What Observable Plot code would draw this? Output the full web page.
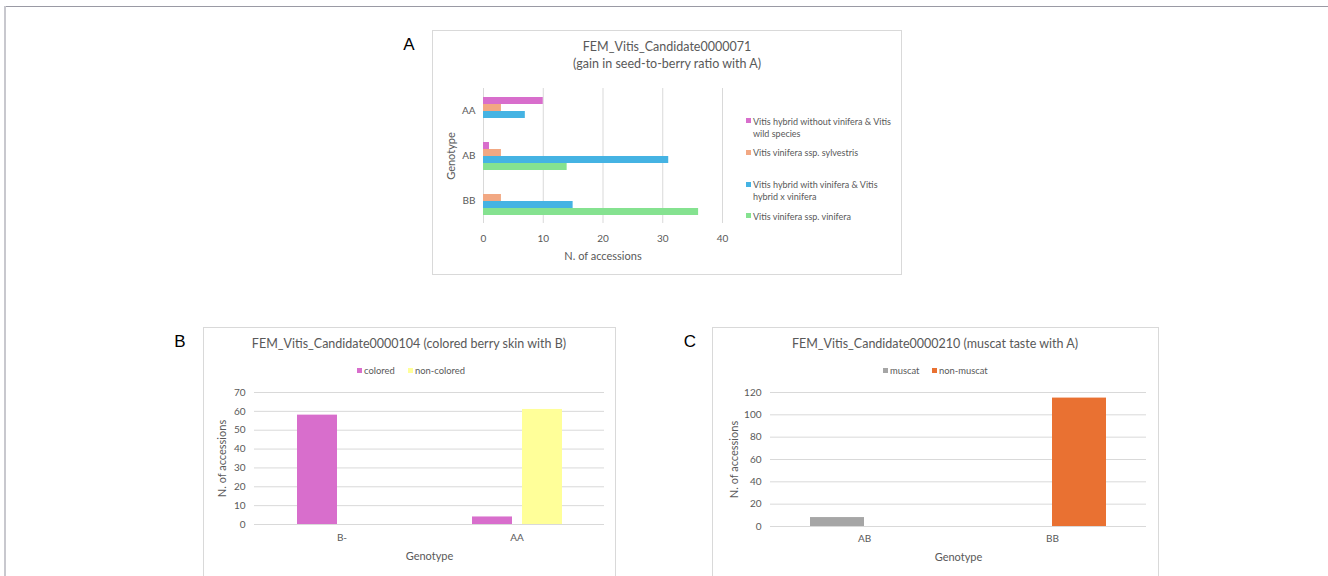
<!DOCTYPE html>
<html>
<head>
<meta charset="utf-8">
<script src="https://cdn.jsdelivr.net/npm/d3@7"></script>
<script src="https://cdn.jsdelivr.net/npm/@observablehq/plot@0.6"></script>
<style>
  body { margin: 0; background: #fff; font-family: Lato, "Noto Sans", sans-serif; color: #595959; }
  #page { position: relative; width: 1328px; height: 576px; overflow: hidden; background: #fff; }
  .box { position: absolute; border: 1px solid #d9d9d9; background: #fff; box-sizing: border-box; }
  .abs { position: absolute; }
  .ct { position: absolute; white-space: nowrap; transform: translate(-50%, -50%); }
  .lt { position: absolute; white-space: nowrap; transform: translateY(-50%); }
  .panel { position: absolute; font-family: "Liberation Sans", Arial, sans-serif; font-size: 17px; color: #000; transform: translate(-50%, -50%); }
  .sw { position: absolute; width: 5px; height: 5px; }
</style>
</head>
<body>
<div id="page"></div>
<script>
// ---------- Panel A data ----------
const genotypesA = ["AA", "AB", "BB"];
const seriesA = [
  "Vitis hybrid without vinifera & Vitis wild species",
  "Vitis vinifera ssp. sylvestris",
  "Vitis hybrid with vinifera & Vitis hybrid x vinifera",
  "Vitis vinifera ssp. vinifera"
];
const legendLinesA = [
  ["Vitis hybrid without vinifera & Vitis", "wild species"],
  ["Vitis vinifera ssp. sylvestris"],
  ["Vitis hybrid with vinifera & Vitis", "hybrid x vinifera"],
  ["Vitis vinifera ssp. vinifera"]
];
const hybridWithoutA = [10, 1, 0];
const sylvestrisA = [3, 3, 3];
const hybridWithA = [7, 31, 15];
const viniferaA = [0, 14, 36];
const colorsA = ["#d86ecc", "#f2a883", "#45b3e3", "#85e290"];
const ticksA = [0, 10, 20, 30, 40];

// ---------- Panel B data ----------
const genotypesB = ["B-", "AA"];
const seriesB = ["colored", "non-colored"];
const coloredB = [58, 4];
const nonColoredB = [0, 61];
const colorsB = ["#d86ecc", "#ffff99"];
const ticksB = [0, 10, 20, 30, 40, 50, 60, 70];

// ---------- Panel C data ----------
const genotypesC = ["AB", "BB"];
const seriesC = ["muscat", "non-muscat"];
const muscatC = [8, 0];
const nonMuscatC = [0, 115];
const colorsC = ["#a6a6a6", "#e97132"];
const ticksC = [0, 20, 40, 60, 80, 100, 120];

const page = document.getElementById("page");
const FONT = 'Lato, "Noto Sans", sans-serif';
const TXT = "#595959";
const TICKFS = 10;
const LABELFS = 11;

function el(tag, cls, style, text) {
  const e = document.createElement(tag);
  if (cls) e.className = cls;
  Object.assign(e.style, style || {});
  if (text != null) e.textContent = text;
  page.appendChild(e);
  return e;
}

// outer frame lines
el("div", "abs", {left: "4px", top: "6px", width: "1324px", height: "1px", background: "#9a9aa4"});
el("div", "abs", {left: "4px", top: "6px", width: "2px", height: "570px", background: "#c8c8ce"});

// ---------- Panel A ----------
el("div", "box", {left: "432px", top: "30px", width: "470px", height: "245px"});
el("div", "panel", {left: "409px", top: "45px"}, "A");
el("div", "ct", {left: "667px", top: "46px", fontSize: "12.5px", color: TXT}, "FEM_Vitis_Candidate0000071");
el("div", "ct", {left: "667px", top: "63px", fontSize: "12.5px", color: TXT}, "(gain in seed-to-berry ratio with A)");

const valuesA = [hybridWithoutA, sylvestrisA, hybridWithA, viniferaA];
const dataA = [];
genotypesA.forEach((g, i) => seriesA.forEach((s, j) => dataA.push({genotype: g, series: s, value: valuesA[j][i]})));

const plotA = Plot.plot({
  width: 470, height: 245,
  marginLeft: 51, marginRight: 180, marginTop: 57, marginBottom: 52,
  style: {fontFamily: FONT, fontSize: TICKFS + "px", color: TXT, background: "transparent"},
  x: {domain: [0, 40], axis: null},
  y: {domain: seriesA, paddingInner: 0, paddingOuter: 0.833, axis: null},
  fy: {domain: genotypesA, padding: 0},
  color: {domain: seriesA, range: colorsA},
  marks: [
    Plot.gridX(ticksA, {stroke: "#d9d9d9", strokeOpacity: 1, strokeWidth: 1}),
    Plot.barX(dataA, {x: "value", y: "series", fy: "genotype", fill: "series"}),
    Plot.axisX({ticks: ticksA, tickSize: 0, tickPadding: 11, label: null}),
    Plot.axisX({ticks: [], tickSize: 0, label: "N. of accessions", labelAnchor: "center", labelArrow: "none", labelOffset: 36, fontSize: LABELFS}),
    Plot.axisFy({anchor: "left", tickSize: 0, tickPadding: 8, label: null}),
    Plot.axisFy({anchor: "left", ticks: [], tickSize: 0, label: "Genotype", labelAnchor: "center", labelOffset: 36, fontSize: LABELFS})
  ]
});
const wA = el("div", "abs", {left: "432px", top: "30px"});
wA.appendChild(plotA);

// legend A
const legendYA = [120.5, 152, 184, 215.7];
legendLinesA.forEach((lines, i) => {
  el("div", "sw", {left: "745.5px", top: (legendYA[i] - 2.5) + "px", background: colorsA[i]});
  lines.forEach((ln, k) => {
    el("div", "lt", {left: "753px", top: (legendYA[i] + k * 12) + "px", fontSize: "9px", color: TXT}, ln);
  });
});

// ---------- Panel B ----------
el("div", "box", {left: "203px", top: "327px", width: "413px", height: "270px"});
el("div", "panel", {left: "180px", top: "342px"}, "B");
el("div", "ct", {left: "409px", top: "343px", fontSize: "12.5px", color: TXT}, "FEM_Vitis_Candidate0000104 (colored berry skin with B)");

const valuesB = [coloredB, nonColoredB];
const dataB = [];
genotypesB.forEach((g, i) => seriesB.forEach((s, j) => dataB.push({genotype: g, series: s, value: valuesB[j][i]})));

const plotB = Plot.plot({
  width: 413, height: 249,
  marginLeft: 51, marginRight: 12, marginTop: 65, marginBottom: 52,
  style: {fontFamily: FONT, fontSize: TICKFS + "px", color: TXT, background: "transparent"},
  y: {domain: [0, 70], axis: null},
  x: {domain: seriesB, paddingInner: 0.2, paddingOuter: 0.845, axis: null},
  fx: {domain: genotypesB, padding: 0},
  color: {domain: seriesB, range: colorsB},
  marks: [
    Plot.gridY(ticksB, {stroke: "#d9d9d9", strokeOpacity: 1, strokeWidth: 1}),
    Plot.barY(dataB, {x: "series", y: "value", fx: "genotype", fill: "series"}),
    Plot.axisY({ticks: ticksB, tickSize: 0, tickPadding: 9, label: null}),
    Plot.axisY({ticks: [], tickSize: 0, label: "N. of accessions", labelAnchor: "center", labelArrow: "none", labelOffset: 36, fontSize: LABELFS}),
    Plot.axisFx({anchor: "bottom", tickSize: 0, tickPadding: 9, label: null}),
    Plot.axisFx({anchor: "bottom", ticks: [], tickSize: 0, label: "Genotype", labelAnchor: "center", labelOffset: 35, fontSize: LABELFS})
  ]
});
const wB = el("div", "abs", {left: "203px", top: "327px"});
wB.appendChild(plotB);

// legend B
const legXB = [357, 408];
seriesB.forEach((s, i) => {
  el("div", "sw", {left: legXB[i] + "px", top: "367.5px", background: colorsB[i]});
  el("div", "lt", {left: (legXB[i] + 7) + "px", top: "370px", fontSize: "9.4px", color: TXT}, s);
});

// ---------- Panel C ----------
el("div", "box", {left: "712px", top: "327px", width: "447px", height: "270px"});
el("div", "panel", {left: "690px", top: "342px"}, "C");
el("div", "ct", {left: "935px", top: "343px", fontSize: "12.5px", color: TXT}, "FEM_Vitis_Candidate0000210 (muscat taste with A)");

const valuesC = [muscatC, nonMuscatC];
const dataC = [];
genotypesC.forEach((g, i) => seriesC.forEach((s, j) => dataC.push({genotype: g, series: s, value: valuesC[j][i]})));

const plotC = Plot.plot({
  width: 447, height: 249,
  marginLeft: 57, marginRight: 13, marginTop: 65, marginBottom: 50,
  style: {fontFamily: FONT, fontSize: TICKFS + "px", color: TXT, background: "transparent"},
  y: {domain: [0, 120], axis: null},
  x: {domain: seriesC, paddingInner: 0, paddingOuter: 0.714, axis: null},
  fx: {domain: genotypesC, padding: 0},
  color: {domain: seriesC, range: colorsC},
  marks: [
    Plot.gridY(ticksC, {stroke: "#d9d9d9", strokeOpacity: 1, strokeWidth: 1}),
    Plot.barY(dataC, {x: "series", y: "value", fx: "genotype", fill: "series"}),
    Plot.axisY({ticks: ticksC, tickSize: 0, tickPadding: 9, label: null}),
    Plot.axisY({ticks: [], tickSize: 0, label: "N. of accessions", labelAnchor: "center", labelArrow: "none", labelOffset: 40, fontSize: LABELFS}),
    Plot.axisFx({anchor: "bottom", tickSize: 0, tickPadding: 8, label: null}),
    Plot.axisFx({anchor: "bottom", ticks: [], tickSize: 0, label: "Genotype", labelAnchor: "center", labelOffset: 34, fontSize: LABELFS})
  ]
});
const wC = el("div", "abs", {left: "712px", top: "327px"});
wC.appendChild(plotC);

// legend C
const legXC = [883, 932];
seriesC.forEach((s, i) => {
  el("div", "sw", {left: legXC[i] + "px", top: "367.5px", background: colorsC[i]});
  el("div", "lt", {left: (legXC[i] + 7) + "px", top: "370px", fontSize: "9.4px", color: TXT}, s);
});
</script>
</body>
</html>
